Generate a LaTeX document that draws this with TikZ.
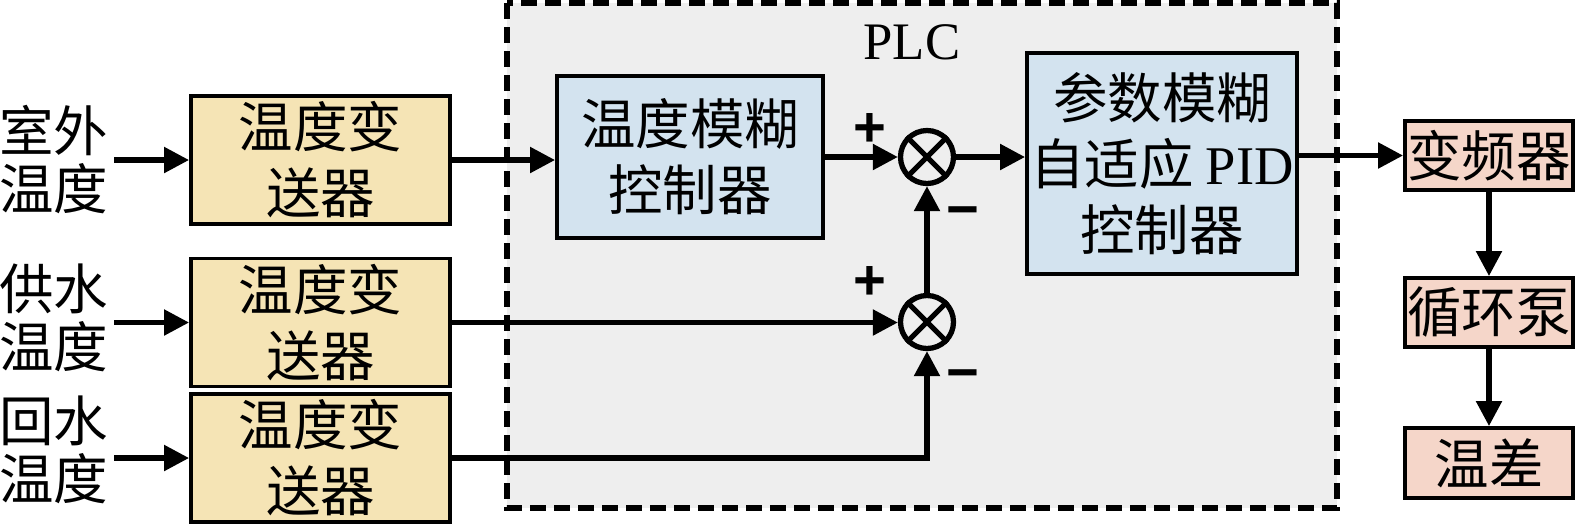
\documentclass[tikz,border=0pt]{standalone}
\usepackage{fontspec}
\setmainfont{Liberation Serif}
\newfontfamily\cjk{Noto Sans CJK SC}
\newfontfamily\signfont{Liberation Sans}
\usepackage{tikz}
\usetikzlibrary{arrows.meta,positioning}

\definecolor{plcgray}{HTML}{EEEEEE}
\definecolor{sensorfill}{HTML}{F5E4B5}
\definecolor{ctrlfill}{HTML}{D3E3EF}
\definecolor{plantfill}{HTML}{F5D6C9}

\begin{document}
\begin{tikzpicture}[
	txt/.style={font=\cjk\fontsize{15.5}{16.5}\selectfont, align=center, inner sep=0.05cm},
	blk/.style={draw, line width=1.1pt, align=center, inner sep=0pt, font=\cjk\fontsize{15.5}{18.8}\selectfont},
	sumnode/.style={draw, circle, line width=1.5pt, minimum size=0.53cm, inner sep=0pt},
	sig/.style={line width=1.5pt, -{Triangle[length=0.25cm,width=0.25cm]}},
	sign/.style={font=\signfont\bfseries\fontsize{16}{16}\selectfont, inner sep=0pt}
]
	\useasboundingbox (0,0) rectangle (15.75,-5.27);
	%\draw (0,0) rectangle (15.75,-5.27);
	\draw[fill=plcgray, line width=1.6pt, dash pattern=on 0.16cm off 0.08cm] (5.07,-0.03) rectangle (13.37,-5.08);
	\node[font=\fontsize{15}{15}\selectfont] (plc) at (9.12,-0.42) {PLC};

	% transmitters
	\foreach \n/\ly/\by/\ltext in {1/1.60/1.60/室外\\温度, 2/3.18/3.225/供水\\温度, 3/4.50/4.58/回水\\温度}{
		\node[txt] (in\n) at (0.54,-\ly) {\ltext};
		\node[blk, fill=sensorfill, minimum width=2.59cm, minimum height=1.28cm] (tx\n) at (3.205,-\by) {温度变\\送器};
		\draw[sig] (in\n.east |- tx\n) -- (tx\n.west);
	}

	\node[blk, fill=ctrlfill, minimum width=2.66cm, minimum height=1.62cm] (fz) at (6.90,-1.57) {温度模糊\\控制器};
	\node[sumnode] (s1) at (9.27,-1.57) {};
	\node[sumnode] (s2) at (9.27,-3.22) {};
	\foreach \s in {s1,s2}
		\draw[line width=1.5pt] (\s.45) -- (\s.225) (\s.135) -- (\s.315);

	\node[sign] (p1) at (8.70,-1.30) {+};
	\node[sign] (m1) at (9.63,-2.18) {−};
	\node[sign] (p2) at (8.70,-2.83) {+};
	\node[sign] (m2) at (9.63,-3.81) {−};

	\node[blk, fill=ctrlfill, minimum width=2.70cm, minimum height=2.21cm] (pid) at (11.62,-1.635) {参数模糊\\自适应 {\rmfamily PID}\\控制器};

	\node[blk, fill=plantfill, minimum width=1.68cm, minimum height=0.69cm] (vfd) at (14.89,-1.555) {变频器};
	\node[blk, fill=plantfill, minimum width=1.68cm, minimum height=0.69cm] (pump) at (14.89,-3.125) {循环泵};
	\node[blk, fill=plantfill, minimum width=1.68cm, minimum height=0.70cm] (diff) at (14.89,-4.63) {温差};

	\draw[sig] (tx1.east) -- (tx1.east -| fz.west);
	\draw[sig] (fz.east) -- (s1.west);
	\draw[sig] (tx2.east) -- (tx2.east -| s2.west);
	\draw[sig] (tx3.east) -| (s2.south);
	\draw[sig] (s2.north) -- (s1.south);
	\draw[sig] (s1.east) -- (s1.east -| pid.west);
	\draw[sig] (pid.east |- vfd) -- (vfd.west);
	\draw[sig] (vfd.south) -- (pump.north);
	\draw[sig] (pump.south) -- (diff.north);

\end{tikzpicture}
\end{document}
